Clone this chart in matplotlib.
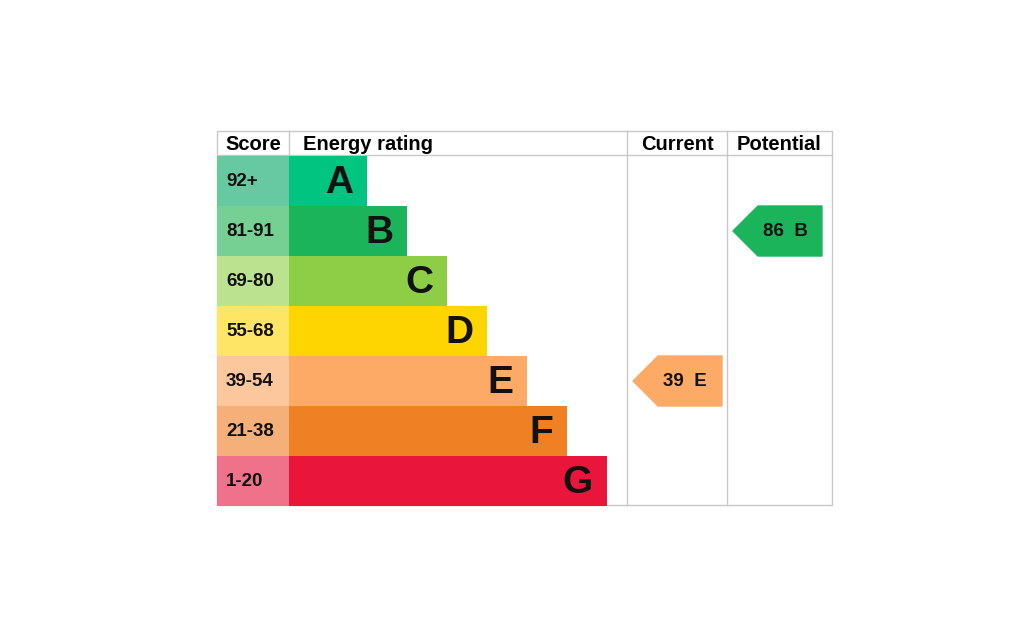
import matplotlib.pyplot as plt
from matplotlib.patches import Polygon, Rectangle

plt.rcParams['font.family'] = ['Liberation Sans', 'DejaVu Sans']

# EPC bands, top to bottom
bands = ['A', 'B', 'C', 'D', 'E', 'F', 'G']
score_ranges = ['92+', '81-91', '69-80', '55-68', '39-54', '21-38', '1-20']
band_colors = ['#00c47f', '#1bb45a', '#8dce46', '#ffd500', '#fcaa65', '#ef8023', '#e9153b']
score_colors = ['#66c9a2', '#76cf93', '#bbe28f', '#ffe566', '#fdc79d', '#f5b07a', '#f0728a']
band_lower = [92, 81, 69, 55, 39, 21, 1]

current = 39
potential = 86

# layout in pixels
left, score_w, bar0 = 217, 72, 289
cur_x, pot_x, right = 627, 727, 832
top, head_h, row_h = 131, 24, 50
grid = '#c8c8c8'


def band_of(v):
    for i, lo in enumerate(band_lower):
        if v >= lo:
            return i
    return len(bands) - 1


fig = plt.figure(figsize=(10.24, 6.4), dpi=100)
ax = fig.add_axes([0, 0, 1, 1])
ax.set_xlim(0, 1024)
ax.set_ylim(640, 0)
ax.axis('off')

y0 = top + head_h + 1
centers = [y0 + row_h * i + row_h / 2 for i in range(len(bands))]
widths = [78 + 40 * i for i in range(len(bands))]

# score cells and rating bars
ax.barh(centers, score_w, left=left, height=row_h, color=score_colors, zorder=2)
ax.barh(centers, widths, left=bar0, height=row_h, color=band_colors, zorder=2)

for yc, s, b, w in zip(centers, score_ranges, bands, widths):
    ax.text(left + 9, yc, s, ha='left', va='center', fontsize=13.5,
            fontweight='bold', color='#111111', zorder=3)
    ax.text(bar0 + w - 14, yc + 2, b, ha='right', va='center', fontsize=28,
            fontweight='bold', color='#111111', zorder=3)

# grid lines
bottom = y0 + row_h * len(bands) - 1
ax.add_patch(Rectangle((left, top), right - left, bottom - top, fill=False,
                       edgecolor=grid, lw=1, zorder=1))
ax.plot([left, right], [top + head_h, top + head_h], color=grid, lw=1, zorder=1)
ax.plot([bar0, bar0], [top, top + head_h], color=grid, lw=1, zorder=1)
for x in (cur_x, pot_x):
    ax.plot([x, x], [top, bottom], color=grid, lw=1, zorder=1)

# headers
hy = top + head_h / 2 + 2
ax.text(left + score_w / 2, hy, 'Score', ha='center', va='center', fontsize=14.5, fontweight='bold')
ax.text(bar0 + 14, hy, 'Energy rating', ha='left', va='center', fontsize=14.5, fontweight='bold')
ax.text((cur_x + pot_x) / 2, hy, 'Current', ha='center', va='center', fontsize=14.5, fontweight='bold')
ax.text((pot_x + right) / 2, hy, 'Potential', ha='center', va='center', fontsize=14.5, fontweight='bold')


def arrow(x_col, value):
    i = band_of(value)
    yc = centers[i]
    tip = x_col + 6
    pts = [(tip, yc), (tip + 25, yc - row_h / 2), (tip + 89, yc - row_h / 2),
           (tip + 89, yc + row_h / 2), (tip + 25, yc + row_h / 2)]
    ax.add_patch(Polygon(pts, closed=True, color=band_colors[i], zorder=2))
    ax.text(tip + 52, yc, f'{value}  {bands[i]}', ha='center', va='center',
            fontsize=13.5, fontweight='bold', color='#111111', zorder=3)


arrow(cur_x, current)
arrow(pot_x, potential)

fig.savefig('out.png', dpi=100)
